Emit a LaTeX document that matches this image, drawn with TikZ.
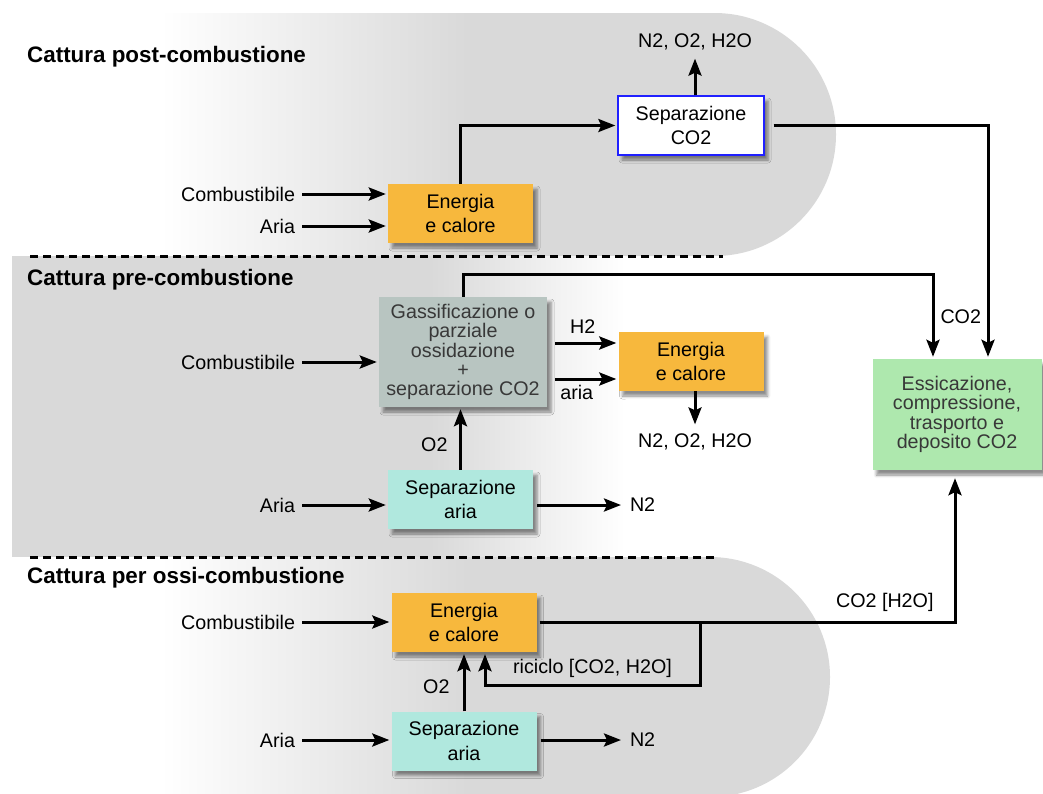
\documentclass[tikz,border=0pt]{standalone}
\usepackage{fontspec}
\setmainfont{Liberation Sans}
\usepackage{xcolor}
\usetikzlibrary{arrows.meta, positioning, shadows.blur}
\newcommand{\bgcolor}{black!15!white}
\definecolor{enorange}{HTML}{F7B83D}
\definecolor{gasgray}{HTML}{B8C5C1}
\definecolor{airteal}{HTML}{B0E8DE}
\definecolor{drygreen}{HTML}{AEE8AE}
\definecolor{sepblue}{HTML}{2020FF}
\definecolor{txtgray}{HTML}{383838}
\newcommand{\flowtxt}{\fontsize{19.7}{24.5}\selectfont}
\newcommand{\densetxt}{\fontsize{19.7}{19.4}\selectfont}
\newcommand{\secttxt}{\fontsize{22.4}{26}\selectfont\bfseries}

\begin{document}
\begin{tikzpicture}[x=1pt, y=-1pt, >={Stealth[length=17pt, width=13pt, inset=3pt]},
    flow/.style={->, line width=3pt, shorten >=2pt},
    lbl/.style={font=\flowtxt, inner sep=3pt, outer sep=4pt},
    flowtag/.style={font=\flowtxt, inner sep=3pt},
    sect/.style={font=\secttxt, anchor=base west, inner sep=0pt},
    procbox/.style={minimum width=145pt, minimum height=59pt, align=center, inner sep=2pt, font=\flowtxt,
        blur shadow={shadow xshift=4pt, shadow yshift=-5pt, shadow blur radius=3pt, shadow opacity=45}},
    sepline/.style={dash pattern=on 8pt off 5pt, line width=3pt}]
    \useasboundingbox (0,0) rectangle (1043,793);

    % color
    \begin{scope}
        \clip (0,13) -- (714.5,13) arc[start angle=-90, end angle=90, radius=121.5] -- (0,256) -- cycle;
        \shade[left color=white, right color=\bgcolor] (160,0) rectangle (470,260);
        \fill[\bgcolor] (469,0) rectangle (1043,260);
    \end{scope}
    \fill[\bgcolor] (12,256) rectangle (430,557);
    \shade[left color=\bgcolor, right color=white] (429,256) rectangle (625,557);
    \begin{scope}
        \clip (0,557) -- (710,557) arc[start angle=-90, end angle=90, radius=120] -- (0,797) -- cycle;
        \shade[left color=white, right color=\bgcolor] (160,550) rectangle (470,800);
        \fill[\bgcolor] (469,550) rectangle (1043,800);
    \end{scope}

    % dotted lines
    \draw[sepline] (30,256) -- (723,256);
    \draw[sepline] (30,557) -- (717,557);

    % sections
    \node[sect] (tpost) at (27,62) {Cattura post-combustione};
    \node[sect] (tpre) at (27,285) {Cattura pre-combustione};
    \node[sect] (toxy) at (27,583) {Cattura per ossi-combustione};

    % boxes
    \node[procbox, fill=enorange] (enpost) at (460.5,213.5) {Energia\\e calore};
    \node[procbox, fill=white, draw=sepblue, line width=1.3pt, minimum width=146pt] (sepco) at (691,125.5) {Separazione\\CO2};
    \node[procbox, fill=gasgray, text=txtgray, font=\densetxt, minimum width=168pt, minimum height=110pt] (gasif) at (463,352) {Gassificazione o\\parziale\\ossidazione\\+\\separazione CO2};
    \node[procbox, fill=enorange] (enpre) at (691,361.5) {Energia\\e calore};
    \node[procbox, fill=airteal] (airpre) at (460.5,499.5) {Separazione\\aria};
    \node[procbox, fill=drygreen, text=txtgray, font=\densetxt, minimum width=169pt, minimum height=111pt] (store) at (957,414.5) {Essicazione,\\compressione,\\trasporto e\\deposito CO2};
    \node[procbox, fill=enorange] (enoxy) at (464,622.5) {Energia\\e calore};
    \node[procbox, fill=airteal] (airoxy) at (464,741) {Separazione\\aria};

    % labels
    \node[lbl, anchor=east] (fuelpost) at (302,194) {Combustibile};
    \node[lbl, anchor=east] (airinpost) at (302,226) {Aria};
    \node[lbl, anchor=east] (fuelpre) at (302,362) {Combustibile};
    \node[lbl, anchor=east] (airinpre) at (302,505) {Aria};
    \node[lbl, anchor=east] (fueloxy) at (302,622) {Combustibile};
    \node[lbl, anchor=east] (airinoxy) at (302,740) {Aria};
    \node[lbl] (gaspost) at (695,41.5) {N2, O2, H2O};
    \node[lbl] (gaspre) at (695,441.5) {N2, O2, H2O};
    \node[lbl, anchor=west] (n2pre) at (623,505) {N2};
    \node[lbl, anchor=west] (n2oxy) at (623,740) {N2};
    \coordinate (split) at (700,622.5);

    % post-combustione
    \draw[flow] (fuelpost.east) -- (fuelpost.east -| enpost.west);
    \draw[flow] (airinpost.east) -- (airinpost.east -| enpost.west);
    \draw[flow] (enpost.north) |- (sepco.west);
    \draw[flow] (gaspost.south |- sepco.north) -- (gaspost.south);
    \draw[flow, shorten <=9pt] (sepco.east) -| ([xshift=31pt]store.north);

    % pre-combustione
    \draw[flow] (fuelpre.east) -- (fuelpre.east -| gasif.west);
    \draw[flow] (airinpre.east) -- (airinpre.east -| airpre.west);
    \draw[flow] (airpre.north) -- (airpre.north |- gasif.south) node[pos=0.4, left=8.5pt, flowtag] {O2};
    \draw[flow, shorten <=8pt] ([yshift=18.5pt]enpre.west -| gasif.east) -- ([yshift=18.5pt]enpre.west) node[midway, above=5pt, flowtag] {H2};
    \draw[flow, shorten <=8pt] ([yshift=-17.5pt]enpre.west -| gasif.east) -- ([yshift=-17.5pt]enpre.west) node[midway, below=2pt, xshift=-6pt, flowtag] {aria};
    \draw[flow] (gaspre.north |- enpre.south) -- (gaspre.north);
    \draw[flow, shorten <=4pt] (airpre.east |- n2pre.west) -- (n2pre.west);
    \draw[flow] (gasif.north) -- ++(0,-22) -| ([xshift=-24pt]store.north) node[pos=0.75, right=3pt, flowtag] {CO2};

    % ossi-combustione
    \draw[flow] (fueloxy.east) -- (fueloxy.east -| enoxy.west);
    \draw[flow] (airinoxy.east) -- (airinoxy.east -| airoxy.west);
    \draw[flow] (airoxy.north) -- (airoxy.north |- enoxy.south) node[pos=0.42, left=10pt, flowtag] {O2};
    \draw[flow, shorten <=4pt] (airoxy.east |- n2oxy.west) -- (n2oxy.west);
    \draw[flow, shorten <=3pt, shorten >=8pt] (enoxy.east) -| ([xshift=-2pt]store.south) node[pos=0.5, above left=6.5pt and 17pt, flowtag] {CO2 [H2O]};
    \draw[flow] (split) -- ++(0,62.5) -| ([xshift=21pt]enoxy.south) node[pos=0.25, above=3pt, flowtag] {riciclo [CO2, H2O]};
\end{tikzpicture}
\end{document}
